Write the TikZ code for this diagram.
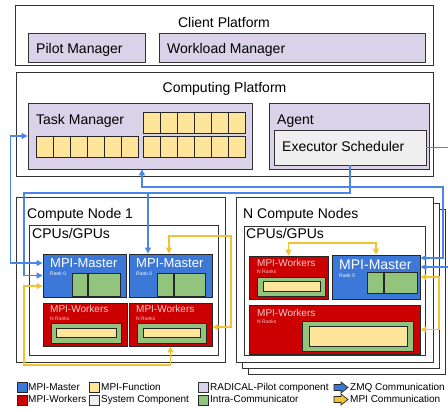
\documentclass[tikz,border=0pt]{standalone}
\usepackage{fontspec}
\setmainfont{Liberation Sans}
\usetikzlibrary{arrows.meta,fit}
\definecolor{rplav}{HTML}{D9D2E9}
\definecolor{sysgray}{HTML}{EFEFEF}
\definecolor{mpiblue}{HTML}{3C78D8}
\definecolor{mpired}{HTML}{CC0000}
\definecolor{intragreen}{HTML}{93C47D}
\definecolor{mpiyellow}{HTML}{FFE599}
\definecolor{zmqblue}{HTML}{4A86E8}
\definecolor{mpiorange}{HTML}{F1C232}
\definecolor{workertxt}{HTML}{F4CCCC}
\begin{document}
\begin{tikzpicture}[x=1pt,y=-1pt,
  frame/.style={draw=black!80,line width=0.8pt,fill=white,inner sep=0pt},
  rpbox/.style={frame,fill=rplav},
  sysbox/.style={frame,fill=sysgray},
  masterbox/.style={draw=black!85,line width=0.9pt,fill=mpiblue,inner sep=0pt},
  workerbox/.style={masterbox,fill=mpired},
  commbox/.style={draw=black!85,line width=0.8pt,fill=intragreen,inner sep=0pt},
  funcbox/.style={draw=black!85,line width=0.8pt,fill=mpiyellow,inner sep=0pt},
  title/.style={inner sep=0pt,anchor=base west,font=\fontsize{14}{16}\selectfont},
  small/.style={inner sep=0pt,anchor=base west,font=\fontsize{10}{12}\selectfont},
  tiny/.style={inner sep=0pt,anchor=base west,font=\fontsize{5}{6}\selectfont},
  zmq/.style={draw=zmqblue,line width=1.2pt},
  mpi/.style={draw=mpiorange,line width=1.2pt},
  blockarrow/.style={draw=black!85,line width=0.7pt,line join=miter},
  >={Triangle[length=6pt,width=6pt]}]
\useasboundingbox (0,0) rectangle (448,410);

% client side
\node[frame,fit={(15,5) (433,65)}] (client) {};
\node[title,anchor=base] (clienttxt) at (224,27) {Client Platform};
\node[rpbox,fit={(28,33) (145,62)}] (pilot) {};
\node[title] (pilottxt) at (36,53) {Pilot Manager};
\node[rpbox,fit={(159,33) (425,62)}] (workload) {};
\node[title] (workloadtxt) at (167,53) {Workload Manager};

% computing platform
\node[frame,fit={(16,72) (433,176)}] (computing) {};
\node[title,anchor=base] (computingtxt) at (224.5,92) {Computing Platform};
\node[rpbox,fit={(28,103) (252,169)}] (taskman) {};
\node[title] (taskmantxt) at (36,124) {Task Manager};
\foreach \i in {0,...,5} {
  \draw[funcbox] (143+17*\i,112) rectangle ++(17,21);
  \draw[funcbox] (36+17*\i,136) rectangle ++(17,21);
  \draw[funcbox] (143+17*\i,136) rectangle ++(17,21);
}
\node[rpbox,fit={(269,103) (429,169)}] (agent) {};
\node[title] (agenttxt) at (277,124) {Agent};
\node[sysbox,fit={(274,130) (426,165)}] (exec) {};
\node[title] (exectxt) at (282,151) {Executor Scheduler};

% compute node 1
\node[frame,fit={(16,197) (225,362)}] (cn) {};
\node[title] (cntxt) at (27,218) {Compute Node 1};
\node[frame,fit={(29,225) (218,355)}] (cpu) {};
\node[title] (cputxt) at (32,238) {CPUs/GPUs};
\node[masterbox,fit={(43,254) (126,297)}] (mma) {};
\node[title,font=\fontsize{13}{15}\selectfont,text=white] (mmatxt) at (50,267) {MPI-Master};
\node[tiny,text=white] (mmarank) at (50,275) {Rank 0};
\draw[commbox] (72,273) rectangle (87,296);
\draw[commbox] (88,273) rectangle (120,296);
\node[masterbox,fit={(129,254) (212,297)}] (mmb) {};
\node[title,font=\fontsize{13}{15}\selectfont,text=white] (mmbtxt) at (136,267) {MPI-Master};
\node[tiny,text=white] (mmbrank) at (136,275) {Rank 0};
\draw[commbox] (157,273) rectangle (173,296);
\draw[commbox] (174,273) rectangle (205,296);
\node[workerbox,fit={(43,303) (127,346)}] (mwa) {};
\node[small,text=workertxt] (mwatxt) at (50,312) {MPI-Workers};
\node[tiny,text=workertxt] (mwarank) at (50,320) {N Ranks};
\draw[commbox] (51,323) rectangle (121,343);
\draw[funcbox] (56,328) rectangle (116,337);
\node[workerbox,fit={(129,303) (212,346)}] (mwb) {};
\node[small,text=workertxt] (mwbtxt) at (136,312) {MPI-Workers};
\node[tiny,text=workertxt] (mwbrank) at (136,320) {N Ranks};
\draw[commbox] (137,323) rectangle (206,343);
\draw[funcbox] (143,328) rectangle (200,337);

% n compute nodes
\node[frame,fit={(248,209) (445,374)}] (cnnc) {};
\node[frame,fit={(242,203) (439,368)}] (cnnb) {};
\node[frame,fit={(236,197) (433,362)}] (cnn) {};
\node[title] (cnntxt) at (243,218) {N Compute Nodes};
\node[frame,fit={(244,226) (425,355)}] (cpun) {};
\node[title] (cpuntxt) at (246,238) {CPUs/GPUs};
\node[workerbox,fit={(249,256) (328,299)}] (mwn) {};
\node[small,text=workertxt] (mwntxt) at (257,266) {MPI-Workers};
\node[tiny,text=workertxt] (mwnrank) at (257,273) {N Ranks};
\draw[commbox] (257,277) rectangle (325,296);
\draw[funcbox] (263,281) rectangle (320,291);
\node[masterbox,fit={(332,255) (420,299)}] (mmn) {};
\node[title,text=white] (mmntxt) at (339,269) {MPI-Master};
\node[tiny,text=white] (mmnrank) at (339,277) {Rank 0};
\draw[commbox] (367,272) rectangle (383,293);
\draw[commbox] (384,272) rectangle (417,293);
\node[workerbox,fit={(249,305) (420,354)}] (mwm) {};
\node[small,text=workertxt] (mwmtxt) at (257,316) {MPI-Workers};
\node[tiny,text=workertxt] (mwmrank) at (257,323) {N Ranks};
\draw[commbox] (302,321) rectangle (413,351);
\draw[funcbox] (309,326) rectangle (407,346);

% zmq
\draw[zmq,<->] (taskman.west) -- ++(-17,0) |- ([yshift=12.5pt]mma.west);
\draw[zmq,<->] ([xshift=2pt]taskman.south) |- (443,187) |- ([yshift=19pt]mmn.east);
\draw[zmq,->] (exec.south) |- (24,193) |- (mma.west);
\draw[zmq,->] (148,193) -- ([xshift=-22.5pt]mmb.north);
\draw[zmq,->] (exec.east) -- (448.5,147.5) |- ([yshift=10pt]mmn.east);

% mpi
\draw[mpi,<->] ([yshift=-10.5pt]mma.west) -| (24,365) -| (mwb.south);
\draw[mpi,<->] ([xshift=-1.5pt]mmb.north) |- (231,236) |- ([yshift=-2.5pt]mwb.east);
\draw[mpi,<->] (mwn.north) |- (376,243) -- (mmn.north);
\draw[mpi,<->] (mmn.east) -- (439,277) |- (mwm.east);

% legend
\node[masterbox,minimum size=10pt,anchor=north west] (lgmaster) at (17,382) {};
\node[small] (lgmastertxt) at (28,390) {MPI-Master};
\node[workerbox,minimum size=10pt,anchor=north west] (lgworkers) at (17,394.5) {};
\node[small] (lgworkerstxt) at (28,402) {MPI-Workers};
\node[funcbox,minimum size=10pt,anchor=north west] (lgfunc) at (89,382) {};
\node[small] (lgfunctxt) at (101,390) {MPI-Function};
\node[sysbox,minimum size=10pt,anchor=north west] (lgsys) at (89,394.5) {};
\node[small] (lgsystxt) at (101,402) {System Component};
\node[rpbox,minimum size=10pt,anchor=north west] (lgrp) at (198,382) {};
\node[small] (lgrptxt) at (210,390) {RADICAL-Pilot component};
\node[commbox,minimum size=10pt,anchor=north west] (lgintra) at (198,394.5) {};
\node[small] (lgintratxt) at (210,402) {Intra-Communicator};
\draw[blockarrow,fill=mpiblue] (334,384.5) -- (341,384.5) -- (341,382) -- (348,387.5)
  -- (341,393) -- (341,390.5) -- (334,390.5) -- cycle;
\node[small] (lgzmqtxt) at (350,390) {ZMQ Communication};
\draw[blockarrow,fill=mpiorange] (334,396.5) -- (341,396.5) -- (341,394) -- (348,399.5)
  -- (341,405) -- (341,402.5) -- (334,402.5) -- cycle;
\node[small] (lgmpitxt) at (350,402) {MPI Communication};
\end{tikzpicture}
\end{document}
